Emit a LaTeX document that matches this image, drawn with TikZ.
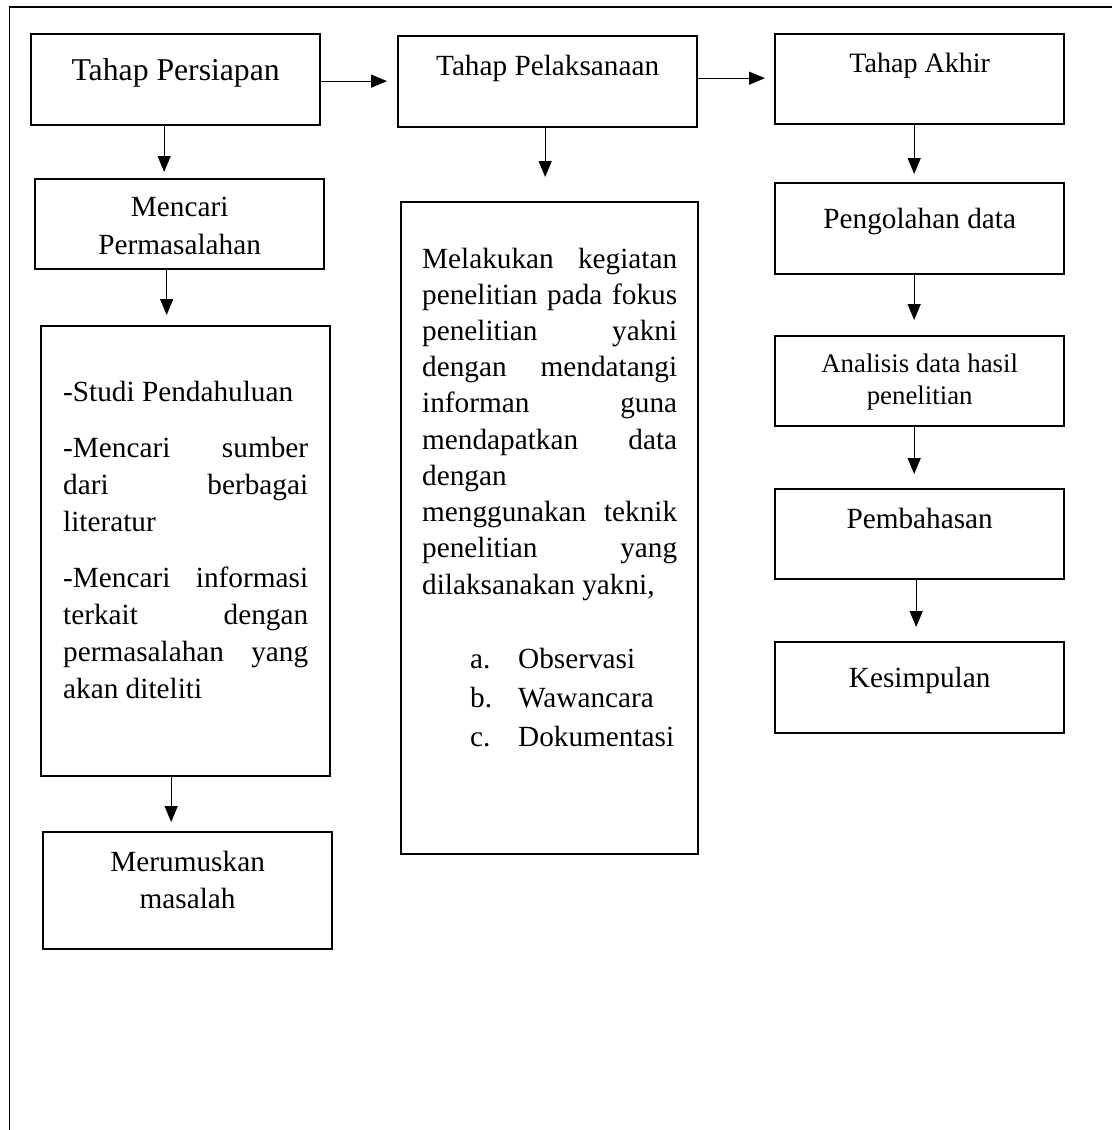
\documentclass[tikz,border=0pt]{standalone}
\usepackage{fontspec}
\setmainfont{Liberation Serif}
\usetikzlibrary{arrows.meta}
\newdimen\pxu
\pxu=0.41pt
\tolerance=10000
\hbadness=10000
\hyphenpenalty=10000
\exhyphenpenalty=10000
\newcommand{\isi}[4]{\parbox[t][#2\pxu][t]{#1\pxu}{\vspace*{#3\pxu}#4}}
\tikzset{
  kotak/.style={draw, line width=0.95pt, inner sep=0pt, anchor=north west,
    font=\fontsize{12}{15}\selectfont},
  panah/.style={-{Triangle[length=6.5pt,width=5.3pt]}, line width=0.5pt},
}
\begin{document}
\begin{tikzpicture}[x=0.41pt,y=-0.41pt]
      \useasboundingbox (0,0) rectangle (1112,1130);
      \draw[line width=0.8pt] (1112,7) -- (9.5,7) -- (9.5,1130);
      \node[kotak] (persiapan) at (30,33)
        {\isi{289}{91}{18.7}{\centering\fontsize{13}{16}\selectfont\strut Tahap Persiapan}};
      \node[kotak] (pelaksanaan) at (397,35)
        {\isi{299}{91}{13.4}{\centering\strut Tahap Pelaksanaan}};
      \node[kotak] (akhir) at (774,33)
        {\isi{289}{90}{13.4}{\centering\fontsize{11.5}{14.4}\selectfont\strut Tahap Akhir}};
      \node[kotak] (cari) at (34,178)
        {\isi{289}{90}{10.4}{\centering\fontsize{12}{15.6}\selectfont\strut Mencari\\Permasalahan}};
      \node[kotak] (studi) at (40,325)
        {\isi{289}{450}{49.3}{\fontsize{12}{15.05}\selectfont
          \leftskip=22\pxu \rightskip=22\pxu
          \strut -Studi Pendahuluan\par\vspace{20\pxu}
          -Mencari sumber\linebreak dari berbagai\linebreak literatur\par\vspace{20\pxu}
          -Mencari informasi\linebreak terkait dengan\linebreak permasalahan yang\linebreak akan diteliti\par}};
      \node[kotak] (rumus) at (42,831)
        {\isi{289}{117}{13}{\centering\fontsize{12}{15.2}\selectfont\strut Merumuskan\\masalah}};
      \node[kotak] (kegiatan) at (400,201)
        {\isi{297}{652}{40.6}{\fontsize{12}{14.85}\selectfont
          \leftskip=21\pxu \rightskip=21\pxu
          \strut Melakukan kegiatan\linebreak penelitian pada fokus\linebreak
          penelitian yakni\linebreak dengan mendatangi\linebreak
          informan guna\linebreak mendapatkan data\linebreak dengan\linebreak
          menggunakan teknik\linebreak penelitian yang\linebreak
          dilaksanakan yakni,\par\vspace{35\pxu}
          \fontsize{12}{16}\selectfont
          \hspace*{48\pxu}\makebox[48\pxu][l]{a.}Observasi\par
          \hspace*{48\pxu}\makebox[48\pxu][l]{b.}Wawancara\par
          \hspace*{48\pxu}\makebox[48\pxu][l]{c.}Dokumentasi\par}};
      \node[kotak] (olah) at (774,182)
        {\isi{289}{91}{19.4}{\centering\strut Pengolahan data}};
      \node[kotak] (analisis) at (774,335)
        {\isi{289}{90}{13.6}{\centering\fontsize{11}{13.1}\selectfont\strut Analisis data hasil\\penelitian}};
      \node[kotak] (bahas) at (774,488)
        {\isi{289}{90}{13.4}{\centering\strut Pembahasan}};
      \node[kotak] (simpul) at (774,641)
        {\isi{289}{91}{19.4}{\centering\strut Kesimpulan}};
      \begin{scope}[panah]
        \draw[shorten >=10\pxu] ([yshift=-1.5\pxu]persiapan.east) -- ([yshift=-1.5\pxu]persiapan.east -| pelaksanaan.west);
        \draw[shorten >=9\pxu] ([yshift=3.5\pxu]pelaksanaan.east) -- ([yshift=3.5\pxu]pelaksanaan.east -| akhir.west);
        \draw[shorten >=6\pxu] ([xshift=-11.5\pxu]persiapan.south) -- ([xshift=-11.5\pxu]persiapan.south |- cari.north);
        \draw[shorten >=10\pxu] ([xshift=-13\pxu]cari.south) -- ([xshift=-13\pxu]cari.south |- studi.north);
        \draw[shorten >=9\pxu] ([xshift=-14.5\pxu]studi.south) -- ([xshift=-14.5\pxu]studi.south |- rumus.north);
        \draw[shorten >=24\pxu] ([xshift=-2.5\pxu]pelaksanaan.south) -- ([xshift=-2.5\pxu]pelaksanaan.south |- kegiatan.north);
        \draw[shorten >=8\pxu] ([xshift=-5.5\pxu]akhir.south) -- ([xshift=-5.5\pxu]akhir.south |- olah.north);
        \draw[shorten >=15\pxu] ([xshift=-5.5\pxu]olah.south) -- ([xshift=-5.5\pxu]olah.south |- analisis.north);
        \draw[shorten >=14\pxu] ([xshift=-5.5\pxu]analisis.south) -- ([xshift=-5.5\pxu]analisis.south |- bahas.north);
        \draw[shorten >=14\pxu] ([xshift=-3.5\pxu]bahas.south) -- ([xshift=-3.5\pxu]bahas.south |- simpul.north);
      \end{scope}
\end{tikzpicture}
\end{document}
